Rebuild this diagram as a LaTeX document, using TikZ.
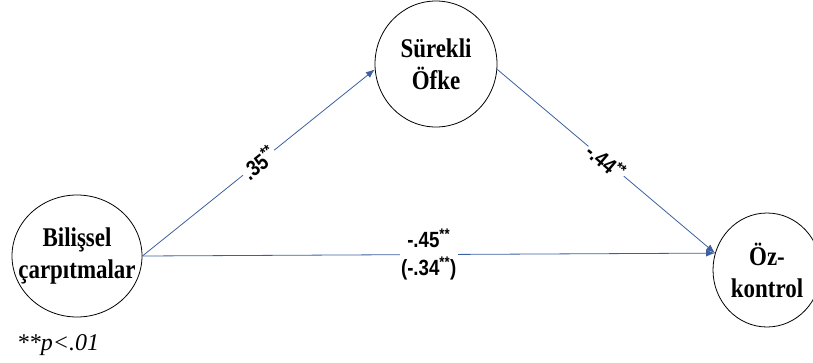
\documentclass[tikz,border=0pt]{standalone}
\usepackage{fontspec}
\setmainfont[FakeStretch=0.85]{Liberation Serif}
\newfontfamily\notefont{Liberation Serif}
\newfontfamily\coeffont[FakeStretch=0.85]{Liberation Sans}
\usetikzlibrary{arrows.meta, shapes.geometric}
\definecolor{linkblue}{RGB}{60,95,160}

\begin{document}
\begin{tikzpicture}[
  x=1pt, y=-1pt,
  var/.style={draw, ellipse, line width=0.8pt, inner sep=0pt},
  vartext/.style={align=center, inner sep=0pt, font=\fontsize{27}{32}\selectfont\bfseries},
  link/.style={-{Latex[length=9pt,width=7pt]}, draw=linkblue, line width=0.8pt},
  coef/.style={fill=white, inner sep=1.5pt, align=center, font=\coeffont\fontsize{22}{28}\selectfont\bfseries}
]
\useasboundingbox (0,0) rectangle (813,362);
% variables
\node[var, minimum width=130pt, minimum height=122pt] (bil) at (77,256) {};
\node[var, minimum width=122pt, minimum height=126pt] (sur) at (436,64) {};
\node[var, minimum width=108pt, minimum height=114pt] (oz) at (767,270) {};
\node[vartext] (bilt) at (bil) {Bilişsel\\çarpıtmalar};
\node[vartext] (surt) at (sur) {Sürekli\\Öfke};
\node[vartext] (ozt) at (oz) {Öz-\\kontrol};
% paths
\draw[link] (bil.east) -- (sur.185) node[coef, sloped, midway] {.35\textsuperscript{**}};
\draw[link] (sur.-5) -- (oz.162) node[coef, sloped, midway] {-.44\textsuperscript{**}};
\draw[link] (bil.east) -- (oz.162) node[coef, midway] {-.45\textsuperscript{**}\\(-.34\textsuperscript{**})};
\node[font=\notefont\itshape\fontsize{24}{26}\selectfont] (note) at (58,345) {**p<.01};
\end{tikzpicture}
\end{document}
